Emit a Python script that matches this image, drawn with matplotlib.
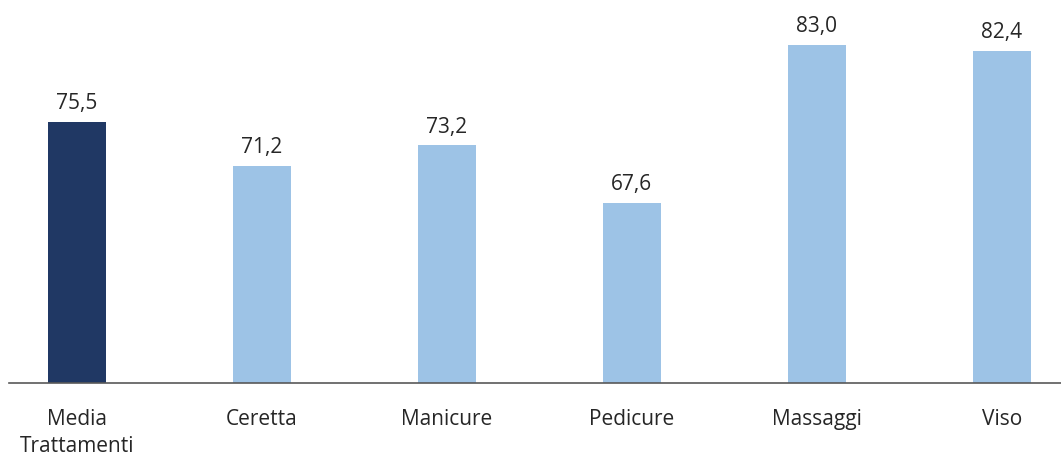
import matplotlib
matplotlib.use("Agg")
import matplotlib.pyplot as plt

categories = ["Media\nTrattamenti", "Ceretta", "Manicure", "Pedicure", "Massaggi", "Viso"]
values = [75.5, 71.2, 73.2, 67.6, 83.0, 82.4]
labels = ["75,5", "71,2", "73,2", "67,6", "83,0", "82,4"]
colors = ["#203864", "#9DC3E6", "#9DC3E6", "#9DC3E6", "#9DC3E6", "#9DC3E6"]

plt.rcParams['font.family'] = ['Open Sans', 'DejaVu Sans']

W, H = 1061, 456
fig = plt.figure(figsize=(W / 100, H / 100), dpi=100)
ax = fig.add_axes([9 / W, (H - 384) / H, 1 - 9 / W, 384 / H])

x = list(range(len(categories)))
ax.bar(x, values, width=0.315, color=colors, bottom=0, zorder=2)
ax.set_ylim(50, 87.45)
ax.set_xlim(-0.368, 5.32)

for xi, v, lab in zip(x, values, labels):
    ax.annotate(lab, (xi, v), xytext=(0, 6), textcoords="offset points",
                ha="center", va="bottom", fontsize=15, color="#262626")

ax.set_xticks(x)
ax.set_xticklabels(categories, fontsize=15, color="#262626", linespacing=1.4)
ax.tick_params(axis="x", length=0, pad=18)
ax.set_yticks([])
for s in ["top", "right", "left"]:
    ax.spines[s].set_visible(False)
ax.spines["bottom"].set_color("#595959")
ax.spines["bottom"].set_linewidth(1.2)

fig.savefig("out.png", dpi=100)
